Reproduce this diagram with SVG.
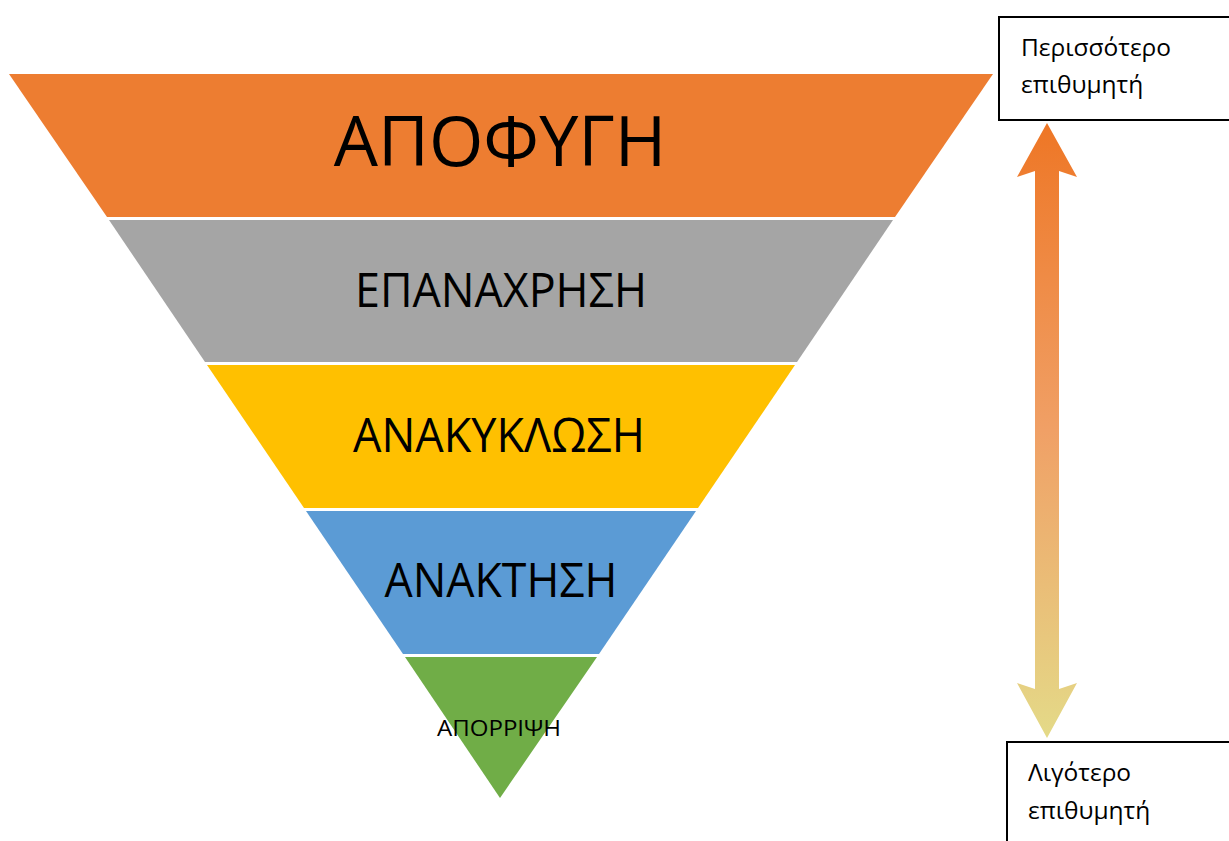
<svg xmlns="http://www.w3.org/2000/svg" width="1229" height="841" viewBox="0 0 1229 841">
<defs>
<style>
.lbl{font-family:"Open Sans","Noto Sans","DejaVu Sans",sans-serif;fill:#000;text-anchor:middle}
.box{fill:#fff;stroke:#000;stroke-width:2}
.bt{font-family:"Open Sans","Noto Sans","DejaVu Sans",sans-serif;font-size:24.5px;fill:#000}
</style>
<linearGradient id="ag" x1="0" y1="123" x2="0" y2="738" gradientUnits="userSpaceOnUse">
<stop offset="0" stop-color="#EE7625"/>
<stop offset="0.5" stop-color="#F0A066"/>
<stop offset="1" stop-color="#E4DA88"/>
</linearGradient>
</defs>
<rect width="1229" height="841" fill="#fff"/>
<g id="band-apofygi">
<polygon points="9,74 993,74 895,217 107,217" fill="#ED7D31"/>
<text class="lbl" x="500" y="166" font-size="70">ΑΠΟΦΥΓΗ</text>
</g>
<g id="band-epanaxrisi">
<polygon points="109,220 893,220 797,362 205,362" fill="#A5A5A5"/>
<text class="lbl" x="501" y="307" font-size="47" textLength="292" lengthAdjust="spacingAndGlyphs">ΕΠΑΝΑΧΡΗΣΗ</text>
</g>
<g id="band-anakyklosi">
<polygon points="207,365 795,365 698,508 304,508" fill="#FFC000"/>
<text class="lbl" x="499" y="452" font-size="47" textLength="292" lengthAdjust="spacingAndGlyphs">ΑΝΑΚΥΚΛΩΣΗ</text>
</g>
<g id="band-anaktisi">
<polygon points="306,511 696,511 599,654 403,654" fill="#5B9BD5"/>
<text class="lbl" x="501" y="597" font-size="47" textLength="233" lengthAdjust="spacingAndGlyphs">ΑΝΑΚΤΗΣΗ</text>
</g>
<g id="band-aporripsi">
<polygon points="405,657 597,657 500,798" fill="#70AD47"/>
<text class="lbl" x="499" y="736" font-size="22" textLength="124" lengthAdjust="spacingAndGlyphs">ΑΠΟΡΡΙΨΗ</text>
</g>
<g id="box-more">
<rect class="box" x="999" y="17" width="240" height="103"/>
<text class="bt" x="1021" y="56">Περισσότερο</text>
<text class="bt" x="1021" y="93">επιθυμητή</text>
</g>
<g id="box-less">
<rect class="box" x="1007" y="742" width="240" height="110"/>
<text class="bt" x="1028" y="781">Λιγότερο</text>
<text class="bt" x="1028" y="819">επιθυμητή</text>
</g>
<g id="connectors">
<polygon points="1047,123 1077,177 1059,171 1059,689 1077,683 1047,738 1017,683 1035,689 1035,171 1017,177" fill="url(#ag)"/>
</g>
</svg>
